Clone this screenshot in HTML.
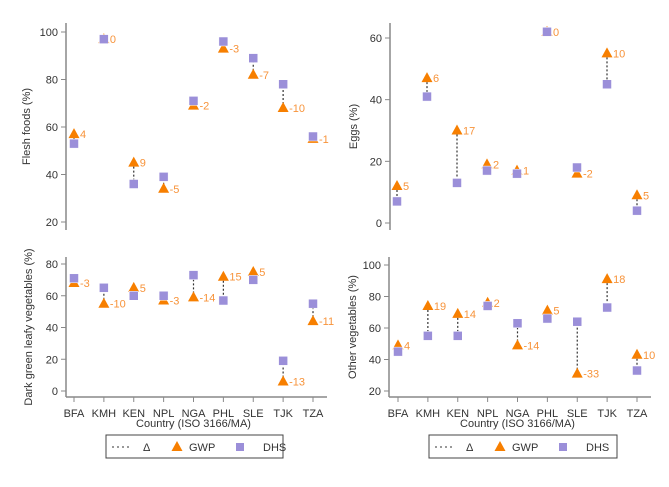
<!DOCTYPE html>
<html><head><meta charset="utf-8"><style>
html,body{margin:0;padding:0;background:#fff;}
svg{display:block;font-family:"Liberation Sans",sans-serif;}
</style></head><body>
<svg id="c" width="669" height="487" viewBox="0 0 669 487"></svg>
<script>
const categories=["BFA","KMH","KEN","NPL","NGA","PHL","SLE","TJK","TZA"];
const fleshGWP=[57,97,45,34,69,93,82,68,55];
const fleshDHS=[53,97,36,39,71,96,89,78,56];
const fleshDiff=[4,0,9,-5,-2,-3,-7,-10,-1];
const eggsGWP=[12,47,30,19,17,62,16,55,9];
const eggsDHS=[7,41,13,17,16,62,18,45,4];
const eggsDiff=[5,6,17,2,1,0,-2,10,5];
const dglvGWP=[68,55,65,57,59,72,75,6,44];
const dglvDHS=[71,65,60,60,73,57,70,19,55];
const dglvDiff=[-3,-10,5,-3,-14,15,5,-13,-11];
const otherGWP=[49,74,69,76,49,71,31,91,43];
const otherDHS=[45,55,55,74,63,66,64,73,33];
const otherDiff=[4,19,14,2,-14,5,-33,18,10];
const fleshTicks=[20,40,60,80,100];
const eggsTicks=[0,20,40,60];
const dglvTicks=[0,20,40,60,80];
const otherTicks=[20,40,60,80,100];

const svg=document.getElementById('c');
const NS='http://www.w3.org/2000/svg';
function mk(tag,attrs,parent){const e=document.createElementNS(NS,tag);for(const k in attrs)e.setAttribute(k,attrs[k]);(parent||svg).appendChild(e);return e;}

const panels=[
 {name:'flesh-foods',title:'Flesh foods (%)',gwp:fleshGWP,dhs:fleshDHS,diff:fleshDiff,ticks:fleshTicks,ax:66,x0:74,x1:313,v0:20,y0:222,v1:100,y1:32,yTop:23,yBot:230,xaxis:false,tx:30},
 {name:'eggs',title:'Eggs (%)',gwp:eggsGWP,dhs:eggsDHS,diff:eggsDiff,ticks:eggsTicks,ax:390,x0:397,x1:637,v0:0,y0:223,v1:60,y1:38,yTop:23,yBot:230,xaxis:false,tx:357},
 {name:'dark-green-leafy-vegetables',title:'Dark green leafy vegetables (%)',gwp:dglvGWP,dhs:dglvDHS,diff:dglvDiff,ticks:dglvTicks,ax:66,x0:74,x1:313,v0:0,y0:391,v1:80,y1:264,yTop:257,yBot:397,xaxis:true,tx:32},
 {name:'other-vegetables',title:'Other vegetables (%)',gwp:otherGWP,dhs:otherDHS,diff:otherDiff,ticks:otherTicks,ax:389,x0:398,x1:637,v0:20,y0:391,v1:100,y1:265,yTop:257,yBot:397,xaxis:true,tx:356}
];
panels.forEach(p=>{
 const g=mk('g',{});
 
 
 const X=i=>p.x0+(p.x1-p.x0)*i/(categories.length-1);
 const Y=v=>p.y0+(v-p.v0)*(p.y1-p.y0)/(p.v1-p.v0);
 const ya=mk('line',{x1:p.ax,x2:p.ax,y1:p.yTop,y2:p.yBot,stroke:'#888','stroke-width':1.5},g);
 
 p.ticks.forEach(t=>{
  mk('line',{x1:p.ax-5,x2:p.ax,y1:Y(t),y2:Y(t),stroke:'#888'},g);
  const tl=mk('text',{x:p.ax-8,y:Y(t)+4,'font-size':11,'text-anchor':'end',fill:'#333'},g);
  tl.textContent=t;
 });
 const yt=mk('text',{x:p.tx,y:(p.yTop+p.yBot)/2,'font-size':11,'text-anchor':'middle',fill:'#333',transform:`rotate(-90 ${p.tx} ${(p.yTop+p.yBot)/2})`},g);
 yt.textContent=p.title;
 if(p.xaxis){
  const xa=mk('line',{x1:p.ax,x2:p.x1+14,y1:p.yBot,y2:p.yBot,stroke:'#888','stroke-width':1.5},g);
  
  categories.forEach((c,i)=>{
   mk('line',{x1:X(i),x2:X(i),y1:p.yBot,y2:p.yBot+5,stroke:'#888'},g);
   const cl=mk('text',{x:X(i),y:p.yBot+20,'font-size':11,'text-anchor':'middle',fill:'#333'},g);
   cl.textContent=c;
  });
  const xt=mk('text',{x:(p.x0+p.x1)/2,y:p.yBot+30,'font-size':11,'text-anchor':'middle',fill:'#333'},g);
  xt.textContent='Country (ISO 3166/MA)';
 }
 categories.forEach((c,i)=>{
  const x=X(i),yg=Y(p.gwp[i]),yd=Y(p.dhs[i]);
  const dl=mk('line',{x1:x,x2:x,y1:yg,y2:yd,stroke:'#333','stroke-dasharray':'2,2','stroke-width':1.2},g);
  
  const tr=mk('polygon',{points:`${x},${yg-6} ${x-5.5},${yg+4} ${x+5.5},${yg+4}`,fill:'#f77f00'},g);
  
  const sq=mk('rect',{x:x-4.5,y:yd-4.5,width:9,height:9,fill:'#9b8fd9',stroke:'#fff','stroke-width':0.5},g);
  
  const lb=mk('text',{x:x+6,y:yg+4,'font-size':11,fill:'#f7933a'},g);
  lb.textContent=p.diff[i];
 });
});
[[106,283],[429,617]].forEach(([a,b])=>{
 const lg=mk('g',{});
 
 mk('rect',{x:a,y:435,width:b-a,height:23,fill:'#fff',stroke:'#444'},lg);
 const l1=mk('line',{x1:a+6,x2:a+24,y1:447,y2:447,stroke:'#333','stroke-dasharray':'2,3'},lg);
 
 mk('text',{x:a+37,y:451,'font-size':11,fill:'#333'},lg).textContent='Δ';
 const t2=mk('polygon',{points:`${a+71},${441} ${a+65.5},${451} ${a+76.5},${451}`,fill:'#f77f00'},lg);
 
 mk('text',{x:a+83,y:451,'font-size':11,fill:'#333'},lg).textContent='GWP';
 const s3=mk('rect',{x:a+130,y:443,width:8,height:8,fill:'#9b8fd9'},lg);
 
 mk('text',{x:a+157,y:451,'font-size':11,fill:'#333'},lg).textContent='DHS';
});
</script>
</body></html>
